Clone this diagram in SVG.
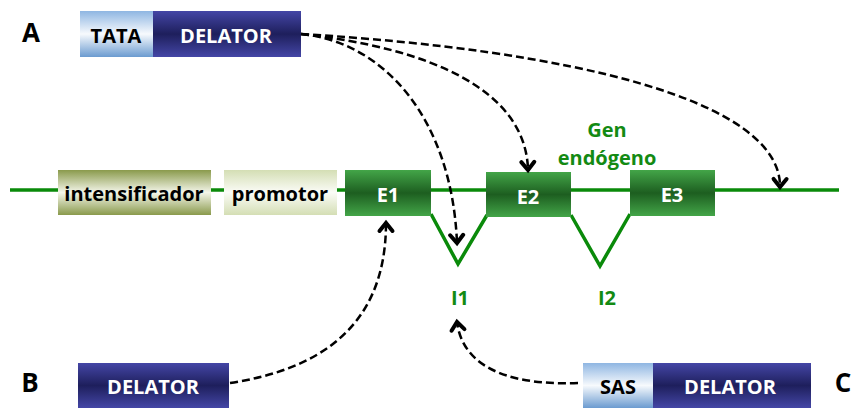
<svg xmlns="http://www.w3.org/2000/svg" width="851" height="408" viewBox="0 0 851 408">
<defs>
<linearGradient id="gDel" x1="0" y1="0" x2="0" y2="1">
<stop offset="0" stop-color="#4446a6"/><stop offset="0.5" stop-color="#1e1f5c"/><stop offset="1" stop-color="#4446a6"/>
</linearGradient>
<linearGradient id="gTata" x1="0" y1="0" x2="0" y2="1">
<stop offset="0" stop-color="#8fb6e2"/><stop offset="0.5" stop-color="#f7fafd"/><stop offset="1" stop-color="#6b9bd0"/>
</linearGradient>
<linearGradient id="gInt" x1="0" y1="0" x2="0" y2="1">
<stop offset="0" stop-color="#8a9a4c"/><stop offset="0.5" stop-color="#f4f6ea"/><stop offset="1" stop-color="#8a9a4c"/>
</linearGradient>
<linearGradient id="gPro" x1="0" y1="0" x2="0" y2="1">
<stop offset="0" stop-color="#d4deb4"/><stop offset="0.5" stop-color="#fbfcf7"/><stop offset="1" stop-color="#d4deb4"/>
</linearGradient>
<linearGradient id="gEx" x1="0" y1="0" x2="0" y2="1">
<stop offset="0" stop-color="#43a548"/><stop offset="0.5" stop-color="#1d5e20"/><stop offset="1" stop-color="#43a548"/>
</linearGradient>
<marker id="chev" markerUnits="userSpaceOnUse" markerWidth="22" markerHeight="22" viewBox="-11 -11 22 22" refX="0" refY="0" orient="auto">
<path d="M-8,-6.5 L0,0 L-8,6.5" fill="none" stroke="#000" stroke-width="4" stroke-linecap="round" stroke-linejoin="miter"/>
</marker>
</defs>
<style>
.t{font-family:"Open Sans","Liberation Sans",sans-serif;font-weight:bold;text-anchor:middle;dominant-baseline:central}
.w{fill:#fff;font-size:20px}
.k{fill:#000;font-size:20px}
.g{fill:#138a13;font-size:20px}
.lab{font-family:"Open Sans","Liberation Sans",sans-serif;font-weight:bold;font-size:26px;fill:#000;text-anchor:middle;dominant-baseline:central}
.gl{fill:none;stroke:#0a8a0a;stroke-width:3.5}
.dash{fill:none;stroke:#000;stroke-width:2.5;stroke-dasharray:8 4;marker-end:url(#chev)}
</style>
<g id="gene-line">
<path class="gl" d="M10,190 H839"/>
<path class="gl" d="M431,214 L458,264 L487,215"/>
<path class="gl" d="M571,215 L600,266 L630,214"/>
</g>
<g id="intensificador">
<rect x="58" y="170" width="153" height="45" fill="url(#gInt)"/>
<text class="t k" x="134" y="193">intensificador</text>
</g>
<g id="promotor">
<rect x="224" y="170" width="113" height="45" fill="url(#gPro)"/>
<text class="t k" x="280" y="193">promotor</text>
</g>
<g id="E1">
<rect x="345" y="170" width="86" height="46" fill="url(#gEx)"/>
<text class="t w" x="388" y="194">E1</text>
</g>
<g id="E2">
<rect x="486" y="172" width="85" height="45" fill="url(#gEx)"/>
<text class="t w" x="528" y="196">E2</text>
</g>
<g id="E3">
<rect x="630" y="170" width="85" height="46" fill="url(#gEx)"/>
<text class="t w" x="672" y="194">E3</text>
</g>
<g id="gen-label">
<text class="t g" x="607" y="129">Gen</text>
<text class="t g" x="607" y="157">endógeno</text>
</g>
<g id="I1"><text class="t g" x="460" y="297">I1</text></g>
<g id="I2"><text class="t g" x="607" y="297">I2</text></g>
<g id="construct-A">
<text class="lab" x="31" y="32">A</text>
<rect x="80" y="11" width="73" height="46" fill="url(#gTata)"/>
<rect x="153" y="11" width="148" height="46" fill="url(#gDel)"/>
<text class="t k" x="116" y="35">TATA</text>
<text class="t w" x="226" y="35">DELATOR</text>
</g>
<g id="construct-B">
<text class="lab" x="30" y="382">B</text>
<rect x="78" y="363" width="151" height="45" fill="url(#gDel)"/>
<text class="t w" x="153" y="386">DELATOR</text>
</g>
<g id="construct-C">
<text class="lab" x="843" y="382">C</text>
<rect x="583" y="363" width="70" height="45" fill="url(#gTata)"/>
<rect x="653" y="363" width="158" height="45" fill="url(#gDel)"/>
<text class="t k" x="618" y="386">SAS</text>
<text class="t w" x="730" y="386">DELATOR</text>
</g>
<g id="connectors">
<path class="dash" d="M301,34 C385,42 452,120 457,243"/>
<path class="dash" d="M301,34 C430,48 526,90 528,170"/>
<path class="dash" d="M301,34 C570,50 781,100 780,187"/>
<path class="dash" d="M230,383 C315,370 386,330 386,223"/>
<path class="dash" d="M578,383 C500,386 462,362 457,322"/>
</g>
</svg>
